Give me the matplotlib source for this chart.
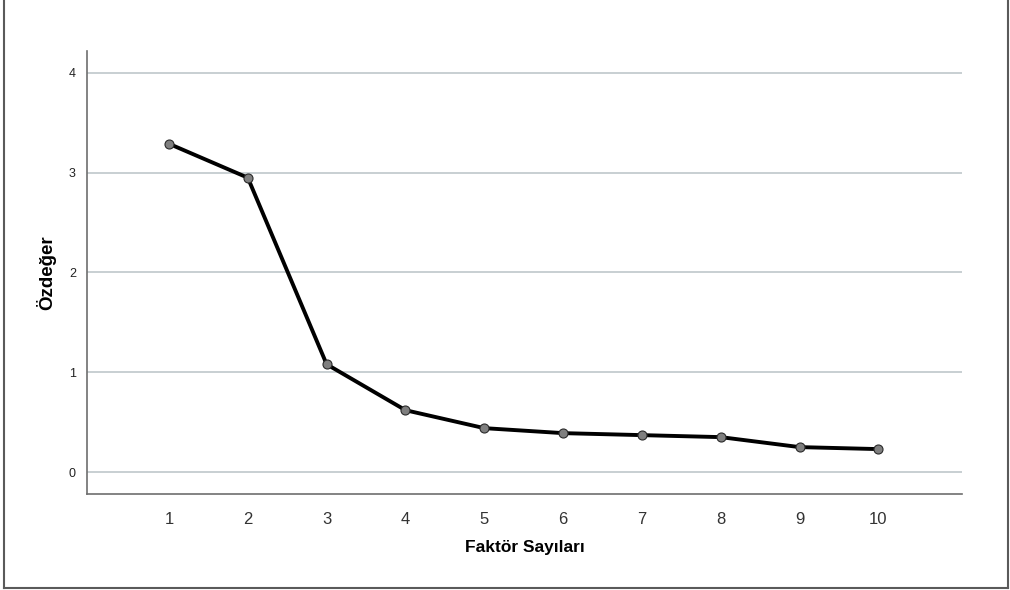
import matplotlib
matplotlib.use('Agg')
import matplotlib.pyplot as plt
from matplotlib.lines import Line2D

# scree plot data
factors = [1, 2, 3, 4, 5, 6, 7, 8, 9, 10]
eigenvalues = [3.29, 2.95, 1.08, 0.62, 0.44, 0.39, 0.37, 0.35, 0.25, 0.23]
y_ticks = [0, 1, 2, 3, 4]

plt.rcParams['font.family'] = ['Liberation Sans', 'DejaVu Sans']

fig = plt.figure(figsize=(10.1, 5.9), dpi=100)
ax = fig.add_axes([87 / 1010, 96 / 590, 875 / 1010, 443 / 590])

for v in y_ticks:
    ax.axhline(v, color='#c4cbcf', lw=1.3, zorder=1)

ax.plot(factors, eigenvalues, color='black', lw=2.8, marker='o', ms=6.5,
        markerfacecolor='#7f7f7f', markeredgecolor='#2a2a2a', markeredgewidth=0.8,
        zorder=3)

ax.set_xlim(-0.04, 11.06)
ax.set_ylim(-0.22, 4.22)
ax.set_xticks(factors)
ax.set_yticks(y_ticks)
ax.tick_params(axis='x', length=0, pad=13, labelsize=12, labelcolor='#333333')
ax.tick_params(axis='y', length=0, pad=8, labelsize=9, labelcolor='#222222')

for s in ['top', 'right']:
    ax.spines[s].set_visible(False)
for s in ['left', 'bottom']:
    ax.spines[s].set_color('#6e6e6e')
    ax.spines[s].set_linewidth(1.2)

ax.set_xlabel('Faktör Sayıları', fontsize=12.5, fontweight='bold', labelpad=9)
ax.set_ylabel('Özdeğer', fontsize=13.5, fontweight='bold', labelpad=9)

# outer frame
fc = '#5a5a5a'
fig.add_artist(Line2D([3.5 / 1010, 3.5 / 1010], [2.5 / 590, 1], color=fc, lw=1.5, transform=fig.transFigure))
fig.add_artist(Line2D([1007.5 / 1010, 1007.5 / 1010], [2.5 / 590, 1], color=fc, lw=1.5, transform=fig.transFigure))
fig.add_artist(Line2D([3.5 / 1010, 1007.5 / 1010], [2.5 / 590, 2.5 / 590], color=fc, lw=1.5, transform=fig.transFigure))

fig.savefig('out.png', dpi=100)
